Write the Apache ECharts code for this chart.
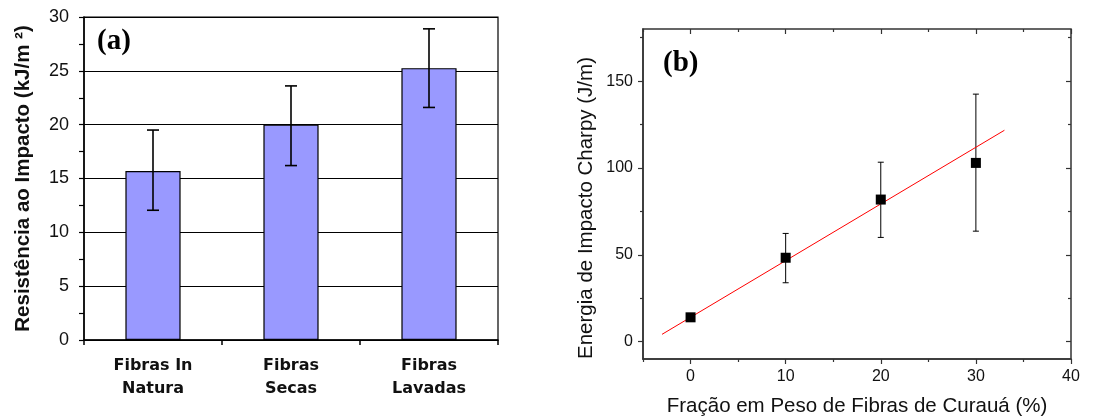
<!DOCTYPE html>
<html>
<head>
<meta charset="utf-8">
<script src="https://cdn.jsdelivr.net/npm/echarts@6/dist/echarts.min.js"></script>
<style>
  html, body { margin: 0; padding: 0; background: #fff; }
  #chart { width: 1093px; height: 417px; }
</style>
</head>
<body>
<div id="chart"></div>
<script>
// (a) Impact resistance by fibre treatment
const categorias = ['Fibras In\nNatura', 'Fibras\nSecas', 'Fibras\nLavadas'];
const resistencia = [15.7, 20.0, 25.25];
const resistenciaErroInf = [12.05, 16.2, 21.6];
const resistenciaErroSup = [19.5, 23.6, 28.9];

// (b) Charpy impact energy vs. curauá fibre weight fraction
const fracao = [0, 10, 20, 30];
const energia = [14.0, 48.3, 81.8, 102.9];
const energiaErroInf = [14.0, 33.9, 60.0, 63.6];
const energiaErroSup = [14.0, 62.3, 103.3, 142.5];
// linear fit endpoints
const ajusteX = [-3, 33];
const ajusteY = [4.2, 121.7];

// tick values for panel (b)
const xMaiores = [0, 10, 20, 30, 40];
const xMenores = [-5, 5, 15, 25, 35];
const yMaiores = [0, 50, 100, 150];
const yMenores = [25, 75, 125, 175];

const SANS = '"Liberation Sans", Arial, sans-serif';
const SANS_WIDE = '"DejaVu Sans", Verdana, sans-serif';
const SERIF = '"Liberation Serif", "Times New Roman", serif';

function errorBars(capHalf, width) {
  return function (params, api) {
    const x = api.value(0);
    const pLo = api.coord([x, api.value(1)]);
    const pHi = api.coord([x, api.value(2)]);
    if (Math.abs(pLo[1] - pHi[1]) < 1) return null;
    const st = { stroke: '#000', lineWidth: width };
    return {
      type: 'group',
      children: [
        { type: 'line', shape: { x1: pLo[0], y1: pLo[1], x2: pHi[0], y2: pHi[1] }, style: st },
        { type: 'line', shape: { x1: pLo[0] - capHalf, y1: pLo[1], x2: pLo[0] + capHalf, y2: pLo[1] }, style: st },
        { type: 'line', shape: { x1: pHi[0] - capHalf, y1: pHi[1], x2: pHi[0] + capHalf, y2: pHi[1] }, style: st }
      ]
    };
  };
}

const axisDark = '#333';

// extra axes on panel (b) that only carry tick marks
function tickAxis(dimMin, dimMax, position, inside, length, values) {
  return {
    type: 'value', gridIndex: 1, min: dimMin, max: dimMax, position: position,
    axisLine: { show: false, onZero: false },
    axisLabel: { show: false },
    splitLine: { show: false },
    axisTick: { show: true, inside: inside, length: length, customValues: values, lineStyle: { color: axisDark, width: 1.2 } }
  };
}

const chart = echarts.init(document.getElementById('chart'), null, { renderer: 'canvas' });

chart.setOption({
  animation: false,
  backgroundColor: '#fff',
  grid: [
    { left: 84, right: 595, top: 17, bottom: 77, outerBoundsMode: 'none', containLabel: false,
      show: true, borderColor: '#000', borderWidth: 1.2, backgroundColor: 'transparent' },
    { left: 643, right: 22, top: 29, bottom: 58, outerBoundsMode: 'none', containLabel: false,
      show: true, borderColor: axisDark, borderWidth: 1.5, backgroundColor: 'transparent' }
  ],
  graphic: [
    { type: 'text', left: 97, top: 27, style: { text: '(a)', font: 'bold 29px ' + SERIF, fill: '#000' } },
    { type: 'text', left: 663, top: 49, style: { text: '(b)', font: 'bold 29px ' + SERIF, fill: '#000' } }
  ],
  xAxis: [
    {
      type: 'category', gridIndex: 0, data: categorias, boundaryGap: true,
      axisLine: { lineStyle: { color: '#000', width: 1.5 } },
      axisTick: { show: true, length: 5, lineStyle: { color: '#000', width: 1.5 } },
      axisLabel: { color: '#111', fontFamily: SANS_WIDE, fontWeight: 'bold', fontSize: 16, lineHeight: 23, margin: 14 }
    },
    // panel (b): bottom axis with labels and major ticks
    {
      type: 'value', gridIndex: 1, min: -5, max: 40, position: 'bottom',
      name: 'Fração em Peso de Fibras de Curauá (%)', nameLocation: 'middle', nameGap: 37,
      nameTextStyle: { fontFamily: SANS, fontSize: 20.5, color: '#111' },
      axisLine: { onZero: false, lineStyle: { color: axisDark, width: 1.5 } },
      axisTick: { show: true, length: 5, customValues: xMaiores, lineStyle: { color: axisDark, width: 1.2 } },
      axisLabel: { customValues: xMaiores, fontFamily: SANS, fontSize: 16, color: '#111', margin: 10 },
      splitLine: { show: false }
    },
    tickAxis(-5, 40, 'bottom', false, 3, xMenores),
    tickAxis(-5, 40, 'top', true, 5, xMaiores),
    tickAxis(-5, 40, 'top', true, 3, xMenores)
  ],
  yAxis: [
    {
      type: 'value', gridIndex: 0, min: 0, max: 30, interval: 5,
      name: 'Resistência ao Impacto (kJ/m ²)', nameLocation: 'middle', nameGap: 50,
      nameTextStyle: { fontFamily: SANS, fontWeight: 'bold', fontSize: 20.5, color: '#111' },
      axisLine: { show: true, lineStyle: { color: '#000', width: 1.5 } },
      axisTick: { show: true, length: 5, lineStyle: { color: '#000', width: 1.2 } },
      minorTick: { show: true, splitNumber: 2, length: 5, lineStyle: { color: '#000', width: 1.2 } },
      axisLabel: { fontFamily: SANS, fontSize: 18, color: '#111', margin: 15 },
      splitLine: { show: true, lineStyle: { color: '#000', width: 1.2 } }
    },
    // panel (b): left axis with labels and major ticks
    {
      type: 'value', gridIndex: 1, min: -10, max: 180, position: 'left',
      name: 'Energia de Impacto Charpy (J/m)', nameLocation: 'middle', nameGap: 46,
      nameTextStyle: { fontFamily: SANS, fontSize: 20.5, color: '#111', padding: [0, 28, 0, 0] },
      axisLine: { show: true, onZero: false, lineStyle: { color: axisDark, width: 1.5 } },
      axisTick: { show: true, length: 5, customValues: yMaiores, lineStyle: { color: axisDark, width: 1.2 } },
      axisLabel: { customValues: yMaiores, fontFamily: SANS, fontSize: 16, color: '#111', margin: 10 },
      splitLine: { show: false }
    },
    tickAxis(-10, 180, 'left', false, 3, yMenores),
    tickAxis(-10, 180, 'right', true, 5, yMaiores),
    tickAxis(-10, 180, 'right', true, 3, yMenores)
  ],
  series: [
    {
      type: 'bar', xAxisIndex: 0, yAxisIndex: 0, data: resistencia, barWidth: '40%',
      itemStyle: { color: '#9999ff', borderColor: '#000', borderWidth: 1.2 }
    },
    {
      type: 'custom', xAxisIndex: 0, yAxisIndex: 0,
      renderItem: errorBars(6, 1.6),
      encode: { x: 0, y: [1, 2] },
      data: resistencia.map((v, i) => [i, resistenciaErroInf[i], resistenciaErroSup[i]]),
      z: 5
    },
    {
      type: 'line', xAxisIndex: 1, yAxisIndex: 1,
      data: ajusteX.map((x, i) => [x, ajusteY[i]]),
      showSymbol: false, lineStyle: { color: '#ff0000', width: 1 }, z: 3
    },
    {
      type: 'custom', xAxisIndex: 1, yAxisIndex: 1,
      renderItem: errorBars(3, 1),
      encode: { x: 0, y: [1, 2] },
      data: fracao.map((x, i) => [x, energiaErroInf[i], energiaErroSup[i]]),
      z: 2
    },
    {
      type: 'scatter', xAxisIndex: 1, yAxisIndex: 1,
      data: fracao.map((x, i) => [x, energia[i]]),
      symbol: 'rect', symbolSize: 10, itemStyle: { color: '#000', opacity: 1 }, z: 4
    }
  ]
});
</script>
</body>
</html>
